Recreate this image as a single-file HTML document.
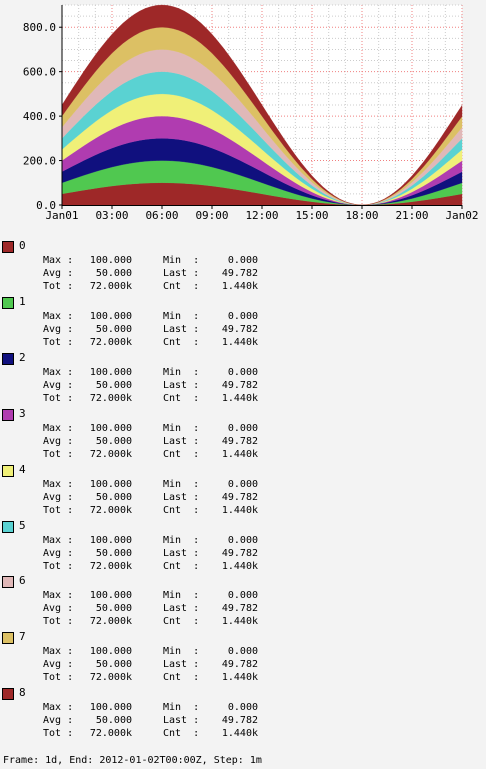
<!DOCTYPE html>
<html><head><meta charset="utf-8">
<style>
body{margin:0;background:#f3f3f3;width:486px;height:769px;overflow:hidden;font-family:"DejaVu Sans Mono","Liberation Mono",monospace;font-size:10px;color:#000;position:relative}
svg{position:absolute;left:0;top:0}
.t{position:absolute;white-space:pre;line-height:12px}
.sw{position:absolute;width:10px;height:10px;border:1px solid #000}
</style></head>
<body>
<svg id="chart" width="486" height="235"></svg>
<div id="legend"></div>
<div class="t" style="left:3px;top:755px">Frame: 1d, End: 2012-01-02T00:00Z, Step: 1m</div>
<script>
const xTickLabels=["Jan01","03:00","06:00","09:00","12:00","15:00","18:00","21:00","Jan02"];
const yTickValues=[0,200,400,600,800];
const seriesNames=["0","1","2","3","4","5","6","7","8"];
const seriesColors=["#9e2828","#50c850","#10107e","#b03cb0","#f0f078","#5ad2d2","#e0b8b8","#dcc064","#9e2828"];
const baseValues=[50,54.4,58.7,62.9,67.1,71.1,75,78.7,82.1,85.4,88.3,91,93.3,95.3,97,98.3,99.2,99.8,100,
99.8,99.2,98.3,97,95.3,93.3,91,88.3,85.4,82.1,78.7,75,71.1,67.1,62.9,58.7,54.4,50,
45.6,41.3,37.1,32.9,28.9,25,21.3,17.9,14.6,11.7,9,6.7,4.7,3,1.7,0.8,0.2,0,
0.2,0.8,1.7,3,4.7,6.7,9,11.7,14.6,17.9,21.3,25,28.9,32.9,37.1,41.3,45.6,49.8];
const series0=baseValues.slice(),series1=baseValues.slice(),series2=baseValues.slice(),series3=baseValues.slice(),series4=baseValues.slice(),series5=baseValues.slice(),series6=baseValues.slice(),series7=baseValues.slice(),series8=baseValues.slice();
const seriesValues=[series0,series1,series2,series3,series4,series5,series6,series7,series8];
const statLabels=[["Max","100.000","Min","0.000"],["Avg","50.000","Last","49.782"],["Tot","72.000k","Cnt","1.440k"]];

const X0=62,X1=462,Y0=205,YTOP=5;
const yMax=900;
const xs=i=>X0+(X1-X0)*i/(baseValues.length-1);
const ys=v=>Y0-(Y0-YTOP)*v/ (yMax*1.0);
const NS="http://www.w3.org/2000/svg";
const svg=document.getElementById('chart');
function mk(tag,attrs){const e=document.createElementNS(NS,tag);for(const k in attrs)e.setAttribute(k,attrs[k]);svg.appendChild(e);return e;}
const bg=mk('rect',{x:X0,y:YTOP,width:X1-X0,height:Y0-YTOP,fill:'#fff'});


// minor grid
for(let h=0;h<=24;h++){const x=X0+(X1-X0)*h/24;const l=mk('line',{x1:x,x2:x,y1:YTOP,y2:Y0,stroke:h%3?'#ccc':'#f08080','stroke-dasharray':'1,2','stroke-width':1});

}
for(let v=0;v<=yMax;v+=50){const y=ys(v);const l=mk('line',{x1:X0,x2:X1,y1:y,y2:y,stroke:v%200?'#ccc':'#f08080','stroke-dasharray':'1,2','stroke-width':1});

}
// stacked areas
let cum=baseValues.map(()=>0);
seriesValues.forEach((vals,s)=>{
  const top=vals.map((v,i)=>cum[i]+v);
  let pts=top.map((v,i)=>xs(i)+','+ys(v));
  for(let i=vals.length-1;i>=0;i--)pts.push(xs(i)+','+ys(cum[i]));
  const p=mk('polygon',{points:pts.join(' '),fill:seriesColors[s],stroke:seriesColors[s],'stroke-width':0.3});
  
  
  cum=top;
});
// axes
const ax=mk('line',{x1:X0,x2:X0,y1:YTOP,y2:Y0+1,stroke:'#000'});


const bx=mk('line',{x1:X0,x2:X1,y1:Y0+0.5,y2:Y0+0.5,stroke:'#000'});


yTickValues.forEach(v=>{const t=mk('text',{x:56,y:ys(v)+4,'text-anchor':'end','font-size':'11','font-family':'DejaVu Sans Mono, Liberation Mono, monospace'});t.textContent=v.toFixed(1);


const tk=mk('line',{x1:X0-3,x2:X0,y1:ys(v),y2:ys(v),stroke:'#000'});

});
xTickLabels.forEach((lab,i)=>{const x=X0+(X1-X0)*i/(xTickLabels.length-1);const t=mk('text',{x:x,y:219,'text-anchor':'middle','font-size':'11','font-family':'DejaVu Sans Mono, Liberation Mono, monospace'});t.textContent=lab;


const tk=mk('line',{x1:x,x2:x,y1:Y0,y2:Y0+4,stroke:'#000'});

});
// legend
const leg=document.getElementById('legend');
function div(cls,style,text){const d=document.createElement('div');d.className=cls;d.style.cssText=style;if(text!==undefined)d.textContent=text;leg.appendChild(d);return d;}
seriesNames.forEach((n,s)=>{
  const by=241+s*55.9;
  const sw=div('sw','left:2px;top:'+by+'px;background:'+seriesColors[s]);
  
  
  const lb=div('t','left:19px;top:'+(by-1)+'px;font-size:11px',n);
  
  
  statLabels.forEach((r,j)=>{
    const y=by+14+j*13;
    const a=div('t','left:43px;top:'+y+'px',r[0]+' :');
    
    
    const b=div('t','left:72px;width:60px;text-align:right;top:'+y+'px',r[1]);
    
    
    const c=div('t','left:163px;top:'+y+'px',(r[2]+'    ').slice(0,4)+' :');
    
    
    const d=div('t','left:198px;width:60px;text-align:right;top:'+y+'px',r[3]);
    
    
  });
});
</script>
</body></html>
